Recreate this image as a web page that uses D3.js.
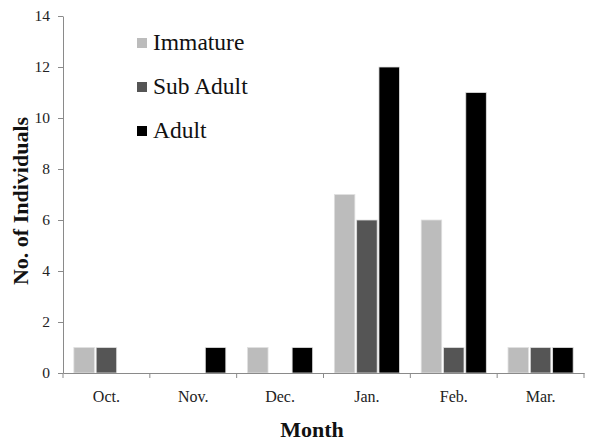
<!DOCTYPE html>
<html lang="en">
<head>
<meta charset="UTF-8">
<title>Individuals by month</title>
<script src="https://cdn.jsdelivr.net/npm/d3@7"></script>
<style>
    body { margin:0; background:#fff; }
    .axis path, .axis line { stroke:#8a8a8a; }
</style>
</head>
<body>
<div class="app"></div>
<script>
    // data
    var months = ['Oct.','Nov.','Dec.','Jan.','Feb.','Mar.'];
    var series = ['Immature','Sub Adult','Adult'];
    var immature = [1,0,1,7,6,1];
    var subAdult = [1,0,0,6,1,1];
    var adult    = [0,1,1,12,11,1];
    var yTicks = [0,2,4,6,8,10,12,14];
    var colors = ['#bcbcbc','#555555','#000000'];

    var values = [immature, subAdult, adult];
    var serif = '"Liberation Serif", "Times New Roman", serif';

    var width = 614, height = 441;
    var margin = {top:16, right:30, bottom:68, left:63};
    var w = width - margin.left - margin.right,
        h = height - margin.top - margin.bottom;

    var svg = d3.select('.app').append('svg')
        .attr('width', width).attr('height', height)
        .attr('font-family', serif);
    var g = svg.append('g')
        .attr('transform', 'translate(' + margin.left + ',' + margin.top + ')');

    var x = d3.scaleBand().domain(months).range([0, w]).paddingInner(0.25).paddingOuter(0.125);
    var xOuter = d3.scaleBand().domain(months).range([0, w]);
    var x1 = d3.scaleBand().domain(series).range([0, x.bandwidth()]).paddingInner(0.08);
    var y = d3.scaleLinear().domain([0, 14]).range([h, 0]);

    // bars
    var group = g.selectAll('.grp')
        .data(months)
        .enter().append('g')
        .attr('class', 'grp')
        .attr('transform', function(d){ return 'translate(' + x(d) + ',0)'; });

    group.selectAll('rect')
        .data(function(d, i){ return series.map(function(s, j){ return {s:s, v:values[j][i], c:colors[j]}; }); })
        .enter().append('rect')
        .filter(function(d){ return d.v > 0; })
        .attr('x', function(d){ return x1(d.s); })
        .attr('width', x1.bandwidth())
        .attr('y', function(d){ return y(d.v); })
        .attr('height', function(d){ return h - y(d.v); })
        .attr('fill', function(d){ return d.c; })
        .attr('stroke', '#e0e0e0')
        .attr('stroke-width', 0.8);

    // y axis
    var yAxis = g.append('g').attr('class', 'axis')
        .call(d3.axisLeft(y).tickValues(yTicks).tickSize(5).tickSizeOuter(0))
        .attr('font-family', serif).attr('font-size', 15.5);
    yAxis.selectAll('text').attr('x', -13).attr('fill', '#222');

    // x axis
    var xAxis = g.append('g').attr('class', 'axis')
        .attr('transform', 'translate(0,' + h + ')')
        .call(d3.axisBottom(xOuter).tickSize(0).tickSizeOuter(0))
        .attr('font-family', serif).attr('font-size', 16);
    xAxis.selectAll('text').attr('y', 18).attr('fill', '#222');
    xAxis.selectAll('.bnd')
        .data(d3.range(months.length + 1))
        .enter().append('line')
        .attr('x1', function(i){ return i * xOuter.step(); })
        .attr('x2', function(i){ return i * xOuter.step(); })
        .attr('y1', 0).attr('y2', 5)
        .attr('stroke', '#8a8a8a');

    // axis titles
    svg.append('text')
        .attr('transform', 'translate(28,201) rotate(-90)')
        .attr('text-anchor', 'middle')
        .attr('font-size', 22).attr('font-weight', 'bold').attr('fill', '#111')
        .text('No. of Individuals');

    svg.append('text')
        .attr('x', 312).attr('y', 437)
        .attr('text-anchor', 'middle')
        .attr('font-size', 22).attr('font-weight', 'bold').attr('fill', '#111')
        .text('Month');

    // legend
    var legend = svg.append('g').attr('transform', 'translate(137,38)');
    var item = legend.selectAll('.item')
        .data(series)
        .enter().append('g')
        .attr('transform', function(d, i){ return 'translate(0,' + i * 44 + ')'; });
    item.append('rect')
        .attr('width', 10).attr('height', 10)
        .attr('fill', function(d, i){ return colors[i]; });
    item.append('text')
        .attr('x', 16).attr('y', 12)
        .attr('font-size', 23.5).attr('fill', '#111')
        .text(function(d){ return d; });
</script>
</body>
</html>
